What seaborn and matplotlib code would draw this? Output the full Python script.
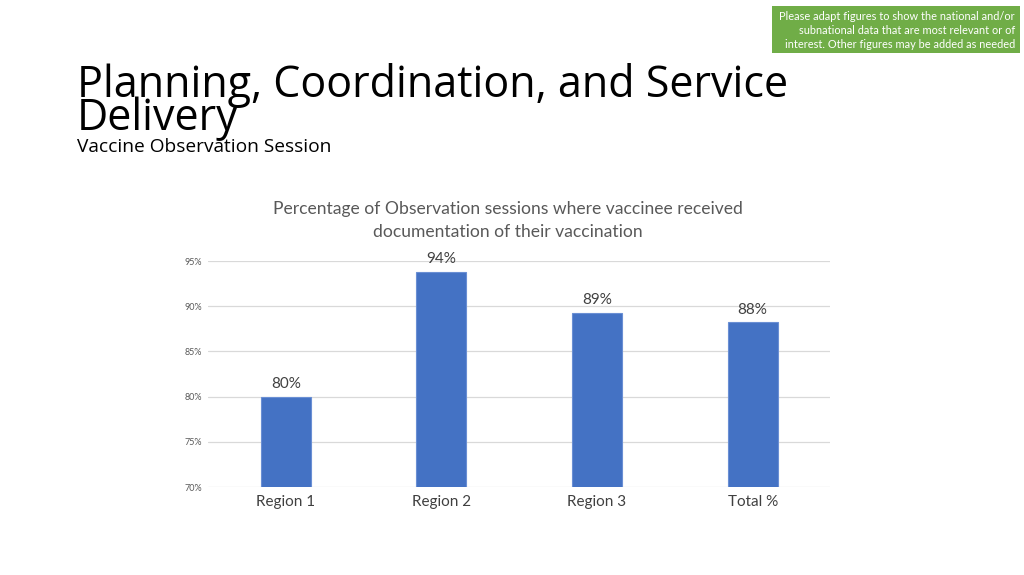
import pandas as pd
import seaborn as sns
from matplotlib import pyplot as plt
from matplotlib.patches import Rectangle

# values (percent)
regions = ["Region 1", "Region 2", "Region 3", "Total %"]
pct_documented = [80.0, 93.8, 89.3, 88.25]
yticks = [70, 75, 80, 85, 90, 95]

df = pd.DataFrame({"region": regions, "pct": pct_documented})

sns.set_theme(style="white")
plt.rcParams['font.family'] = ['Lato', 'DejaVu Sans']

fig = plt.figure(figsize=(10.24, 5.75), dpi=100)
ax = fig.add_axes([0.203, 0.153, 0.608, 0.393])

sns.barplot(data=df, x="region", y="pct", color="#4472C4", width=0.32,
            saturation=1, edgecolor="#6A8FD4", linewidth=0.8, ax=ax, zorder=3)

ax.set_ylim(70, 95)
ax.set_yticks(yticks)
ax.set_yticklabels([f"{t}%" for t in yticks], color="#595959", fontsize=6.5)
ax.tick_params(axis="x", labelsize=11, labelcolor="#404040", length=0, pad=6)
ax.tick_params(axis="y", length=0, pad=4)
ax.set_xlabel("")
ax.set_ylabel("")
ax.grid(axis="y", color="#D9D9D9", linewidth=0.9, zorder=0)
for s in ax.spines.values():
    s.set_visible(False)

ax.bar_label(ax.containers[0], labels=[f"{v:.0f}%" for v in pct_documented],
             padding=4, fontsize=11, color="#404040")

# chart title
fig.text(0.496, 1 - 214 / 575, "Percentage of Observation sessions where vaccinee received",
         ha="center", va="baseline", fontsize=12.6, color="#595959")
fig.text(0.496, 1 - 237 / 575, "documentation of their vaccination",
         ha="center", va="baseline", fontsize=12.6, color="#595959")

# slide title
title_font = ['Open Sans', 'DejaVu Sans']
fig.text(0.075, 1 - 97 / 575, "Planning, Coordination, and Service",
         ha="left", va="baseline", fontsize=31, family=title_font, color="black")
fig.text(0.075, 1 - 130 / 575, "Delivery",
         ha="left", va="baseline", fontsize=31, family=title_font, color="black")
fig.text(0.075, 1 - 152 / 575, "Vaccine Observation Session",
         ha="left", va="baseline", fontsize=13.8, family=title_font, color="black")

# green note box
fig.patches.append(Rectangle((0.754, 0.908), 0.242, 0.0817, transform=fig.transFigure,
                             facecolor="#70AD47", edgecolor="none", zorder=1))
note = ["Please adapt figures to show the national and/or",
        "subnational data that are most relevant or of",
        "interest. Other figures may be added as needed"]
for i, line in enumerate(note):
    fig.text(0.991, 1 - (19.5 + i * 14.5) / 575, line, ha="right", va="baseline",
             fontsize=7.9, color="white", zorder=2)

fig.savefig("out.png", dpi=100)
